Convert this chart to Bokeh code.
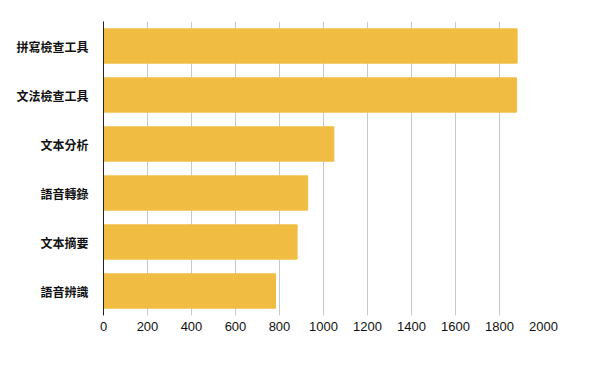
from bokeh.plotting import figure
from bokeh.models import FactorRange, Range1d, FixedTicker
from bokeh.embed import file_html
from bokeh.resources import INLINE

categories = ["拼寫檢查工具", "文法檢查工具", "文本分析", "語音轉錄", "文本摘要", "語音辨識"]
values = [1880, 1877, 1047, 928, 880, 782]
ticks = [0, 200, 400, 600, 800, 1000, 1200, 1400, 1600, 1800, 2000]

p = figure(width=601, height=371, output_backend="svg", toolbar_location=None,
           y_range=FactorRange(factors=list(reversed(categories)), range_padding=0),
           x_range=Range1d(0, 2000),
           min_border_left=103, min_border_right=58, min_border_top=21, min_border_bottom=56)

p.hbar(y=categories, right=values, left=0, height=0.7, color="#F0BC42", line_color="#F0BC42")

p.outline_line_color = None
p.ygrid.grid_line_color = None
p.xgrid.grid_line_color = "#c8c8c8"
p.xgrid.grid_line_width = 1
p.xaxis.ticker = FixedTicker(ticks=ticks)
p.xaxis.axis_line_color = None
p.xaxis.major_tick_line_color = None
p.xaxis.minor_tick_line_color = None
p.xaxis.major_tick_out = 0
p.xaxis.major_label_standoff = 6
p.xaxis.major_label_text_font = "Liberation Sans"
p.xaxis.major_label_text_font_size = "13px"
p.xaxis.major_label_text_color = "#111111"

p.yaxis.axis_line_color = "#222222"
p.yaxis.axis_line_width = 1
p.yaxis.major_tick_line_color = None
p.yaxis.minor_tick_line_color = None
p.yaxis.major_tick_out = 0
p.yaxis.major_label_standoff = 15
p.yaxis.major_label_text_font = "Noto Sans CJK TC"
p.yaxis.major_label_text_font_style = "bold"
p.yaxis.major_label_text_font_size = "12px"
p.yaxis.major_label_text_color = "#111111"

open("out.html", "w").write(file_html(p, INLINE))
